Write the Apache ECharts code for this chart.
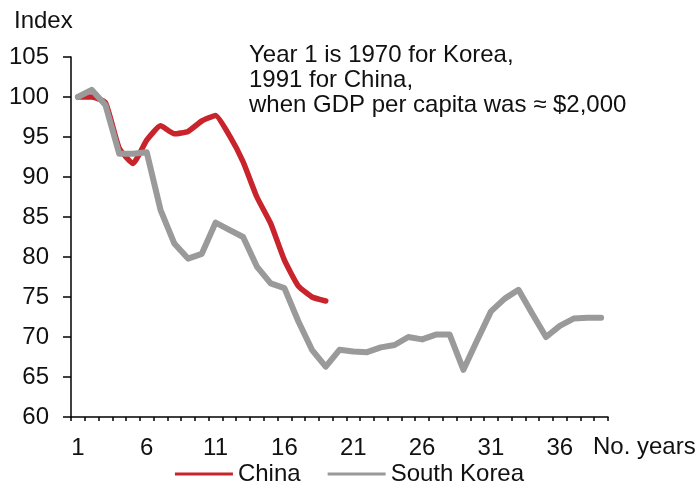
<!DOCTYPE html>
<html>
<head>
<meta charset="utf-8">
<script src="https://cdn.jsdelivr.net/npm/echarts@6/dist/echarts.min.js"></script>
<style>
  html, body { margin: 0; padding: 0; background: #fff; }
  #chart { width: 699px; height: 486px; }
</style>
</head>
<body>
<div id="chart"></div>
<script>
const years = ['1', '2', '3', '4', '5', '6', '7', '8', '9', '10',
  '11', '12', '13', '14', '15', '16', '17', '18', '19', '20',
  '21', '22', '23', '24', '25', '26', '27', '28', '29', '30',
  '31', '32', '33', '34', '35', '36', '37', '38', '39']
const chinaIndex = [100, 100, 99.3, 93.6, 91.7, 94.6, 96.4, 95.4, 95.7, 97.0,
  97.7, 95.2, 91.9, 87.5, 84.2, 79.6, 76.4, 75.0, 74.5]
const koreaIndex = [100, 100.9, 99.0, 92.9, 92.9, 93.1, 85.9, 81.7, 79.8, 80.4,
  84.3, 83.4, 82.5, 78.8, 76.7, 76.1, 72.0, 68.4, 66.3, 68.4,
  68.2, 68.1, 68.7, 69.0, 70.0, 69.7, 70.3, 70.3, 65.9, 69.6,
  73.2, 74.8, 75.9, 72.9, 70.0, 71.4, 72.3, 72.4, 72.4]
const seriesNames = ['China', 'South Korea']
const note = 'Year 1 is 1970 for Korea,\n1991 for China,\nwhen GDP per capita was \u2248 $2,000'
const xName = 'No. years'

const font = '"Liberation Sans", Arial, sans-serif'
const textColor = '#111'
const fontSize = 24

const chart = echarts.init(document.getElementById('chart'), null, { renderer: 'canvas' })

chart.setOption({
  animation: false,
  title: {
    text: 'Index',
    left: 14,
    top: 9,
    padding: 0,
    textStyle: { fontFamily: font, fontSize: fontSize, fontWeight: 'normal', color: textColor }
  },
  graphic: [
    {
      type: 'text',
      left: 249,
      top: 43,
      style: {
        text: note,
        fontFamily: font,
        fontSize: fontSize,
        lineHeight: 25,
        fill: textColor
      }
    },
    {
      type: 'text',
      left: 593,
      top: 435,
      style: {
        text: xName,
        fontFamily: font,
        fontSize: fontSize,
        fill: textColor
      }
    }
  ],
  legend: {
    data: seriesNames,
    bottom: 0,
    left: 'center',
    padding: 0,
    icon: 'rect',
    itemWidth: 58,
    itemHeight: 3,
    itemGap: 27,
    textStyle: { fontFamily: font, fontSize: fontSize, color: textColor }
  },
  grid: {
    left: 71,
    right: 91,
    top: 57,
    bottom: 69,
    outerBoundsMode: 'none'
  },
  xAxis: {
    type: 'category',
    data: years,
    boundaryGap: true,
    axisLine: { lineStyle: { color: '#000', width: 1.5 } },
    axisTick: { show: true, interval: 0, length: 4, lineStyle: { color: '#000', width: 1.5 } },
    axisLabel: {
      interval: 4,
      margin: 19,
      fontFamily: font,
      fontSize: fontSize,
      color: textColor
    },
    splitLine: { show: false }
  },
  yAxis: {
    type: 'value',
    min: 60,
    max: 105,
    interval: 5,
    axisLine: { show: true, lineStyle: { color: '#000', width: 1.5 } },
    axisTick: { show: true, length: 8, lineStyle: { color: '#000', width: 1.5 } },
    axisLabel: {
      margin: 22,
      fontFamily: font,
      fontSize: fontSize,
      color: textColor
    },
    splitLine: { show: false }
  },
  series: [
    {
      name: seriesNames[0],
      type: 'line',
      data: chinaIndex,
      symbol: 'none',
      smooth: 0.15,
      lineStyle: { color: '#C9232B', width: 5.5, cap: 'round', join: 'round' },
      itemStyle: { color: '#C9232B' }
    },
    {
      name: seriesNames[1],
      type: 'line',
      data: koreaIndex,
      symbol: 'none',
      lineStyle: { color: '#9A9A9A', width: 6, cap: 'round', join: 'round' },
      itemStyle: { color: '#9A9A9A' }
    }
  ]
})
</script>
</body>
</html>
